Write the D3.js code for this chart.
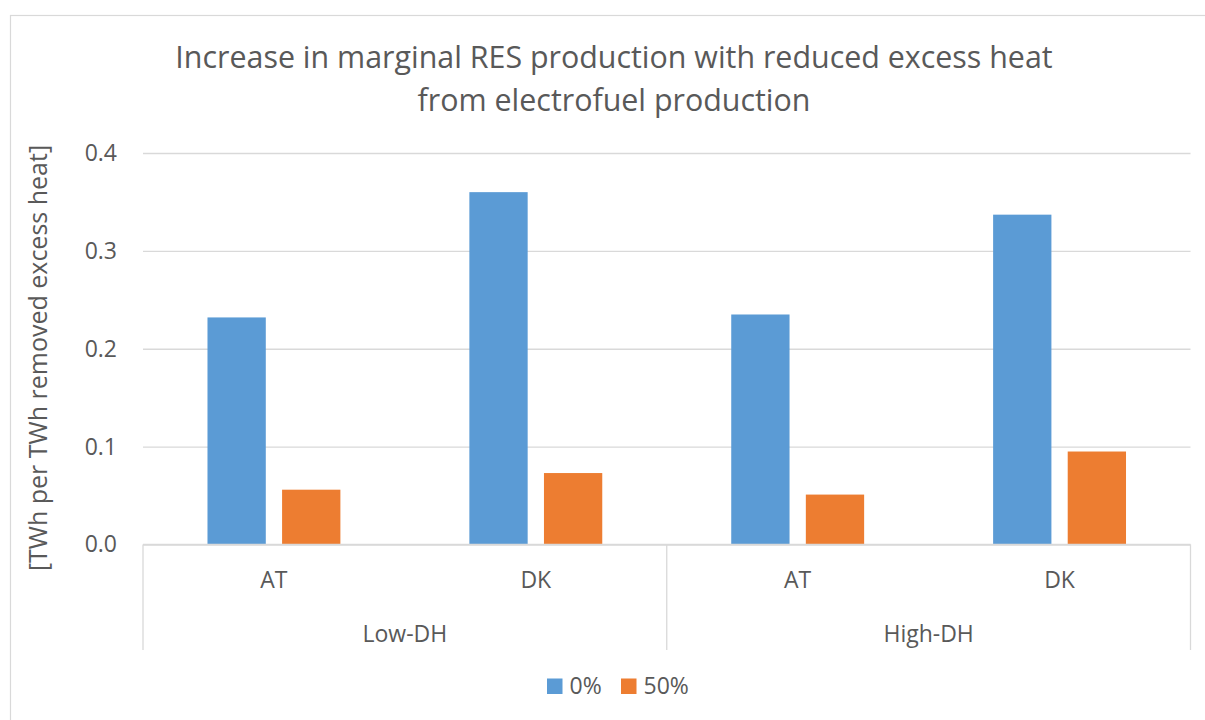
<!DOCTYPE html>
<html>
<head>
<meta charset="utf-8">
<script src="https://cdn.jsdelivr.net/npm/d3@7"></script>
<style>
  html, body { margin: 0; padding: 0; background: #fff; }
  svg { display: block; }
  text { font-family: "Open Sans", "Noto Sans", sans-serif; fill: #595959; }
</style>
</head>
<body>
<svg id="chart" width="1205" height="720"></svg>
<script>
// ---- data ----
const titleLines = ["Increase in marginal RES production with reduced excess heat", "from electrofuel production"];
const yAxisTitle = "[TWh per TWh removed excess heat]";
const groups = ["Low-DH", "High-DH"];
const countries = ["AT", "DK"];
const seriesNames = ["0%", "50%"];
const values0 = [0.232, 0.360, 0.235, 0.337];   // Low-DH AT, Low-DH DK, High-DH AT, High-DH DK
const values50 = [0.056, 0.073, 0.051, 0.095];
const yTicks = [0.0, 0.1, 0.2, 0.3, 0.4];
const colors = ["#5B9BD5", "#ED7D31"];

// ---- layout ----
const svg = d3.select("#chart");
const plot = { left: 143, right: 1190.5, top: 153, bottom: 544.5 };

// outer border
svg.append("rect")
  .attr("x", 10.5).attr("y", 15.5)
  .attr("width", 1230).attr("height", 760)
  .attr("fill", "none").attr("stroke", "#d9d9d9").attr("stroke-width", 1.2);

// title
svg.append("text").attr("x", 614).attr("y", 68).attr("text-anchor", "middle")
  .style("font-size", "30.4px").text(titleLines[0]);
svg.append("text").attr("x", 614).attr("y", 111).attr("text-anchor", "middle")
  .style("font-size", "30.4px").text(titleLines[1]);

// scales
const y = d3.scaleLinear().domain([0, 0.4]).range([plot.bottom, plot.top]);
const xGroup = d3.scaleBand().domain(groups).range([plot.left, plot.right]).padding(0);
const xCountry = d3.scaleBand().domain(countries).range([0, xGroup.bandwidth()]).padding(0);
const xSeries = d3.scaleBand().domain(seriesNames).range([0, xCountry.bandwidth()])
  .paddingInner(0.2185).paddingOuter(0.8645);

// gridlines
const yAxis = d3.axisLeft(y).tickValues(yTicks).tickFormat(d3.format(".1f"))
  .tickSize(-(plot.right - plot.left)).tickPadding(26);
const gy = svg.append("g").attr("transform", `translate(${plot.left},0)`).call(yAxis);
gy.select(".domain").remove();
gy.selectAll(".tick line").attr("stroke", "#d9d9d9").attr("stroke-width", 1.3);
gy.selectAll(".tick text").style("font-size", "23px").attr("fill", "#595959")
  .style("font-family", "\"Open Sans\", \"Noto Sans\", sans-serif");

// y-axis title
svg.append("text")
  .attr("transform", `translate(38,358) rotate(-90)`)
  .attr("text-anchor", "middle").attr("dy", "0.35em")
  .style("font-size", "25px").text(yAxisTitle);

// bars
const rows = [];
groups.forEach((g, gi) => {
  countries.forEach((c, ci) => {
    const idx = gi * countries.length + ci;
    [values0[idx], values50[idx]].forEach((v, si) => {
      rows.push({ g, c, s: seriesNames[si], v, color: colors[si] });
    });
  });
});
svg.append("g").selectAll("rect").data(rows).join("rect")
  .attr("x", d => xGroup(d.g) + xCountry(d.c) + xSeries(d.s))
  .attr("y", d => y(d.v))
  .attr("width", xSeries.bandwidth())
  .attr("height", d => y(0) - y(d.v))
  .attr("fill", d => d.color);

// category axis (multi-level)
const catAxis = svg.append("g");
catAxis.append("line").attr("x1", plot.left).attr("x2", plot.right)
  .attr("y1", y(0)).attr("y2", y(0)).attr("stroke", "#d9d9d9").attr("stroke-width", 1.3);
const dividers = [plot.left].concat(groups.map(g => xGroup(g) + xGroup.bandwidth()));
catAxis.selectAll(".div").data(dividers).join("line")
  .attr("x1", d => d).attr("x2", d => d)
  .attr("y1", y(0)).attr("y2", 650)
  .attr("stroke", "#d9d9d9").attr("stroke-width", 1.3);

groups.forEach(g => {
  countries.forEach(c => {
    catAxis.append("text")
      .attr("x", xGroup(g) + xCountry(c) + xCountry.bandwidth() / 2)
      .attr("y", 588).attr("text-anchor", "middle")
      .style("font-size", "23px").text(c);
  });
  catAxis.append("text")
    .attr("x", xGroup(g) + xGroup.bandwidth() / 2)
    .attr("y", 642).attr("text-anchor", "middle")
    .style("font-size", "23px").text(g);
});

// legend
const legend = svg.append("g");
const legendX = [547, 621];
seriesNames.forEach((s, i) => {
  legend.append("rect").attr("x", legendX[i]).attr("y", 678.5)
    .attr("width", 15.5).attr("height", 15.5).attr("fill", colors[i]);
  legend.append("text").attr("x", legendX[i] + 22.5).attr("y", 694)
    .style("font-size", "23px").text(s);
});
</script>
</body>
</html>
